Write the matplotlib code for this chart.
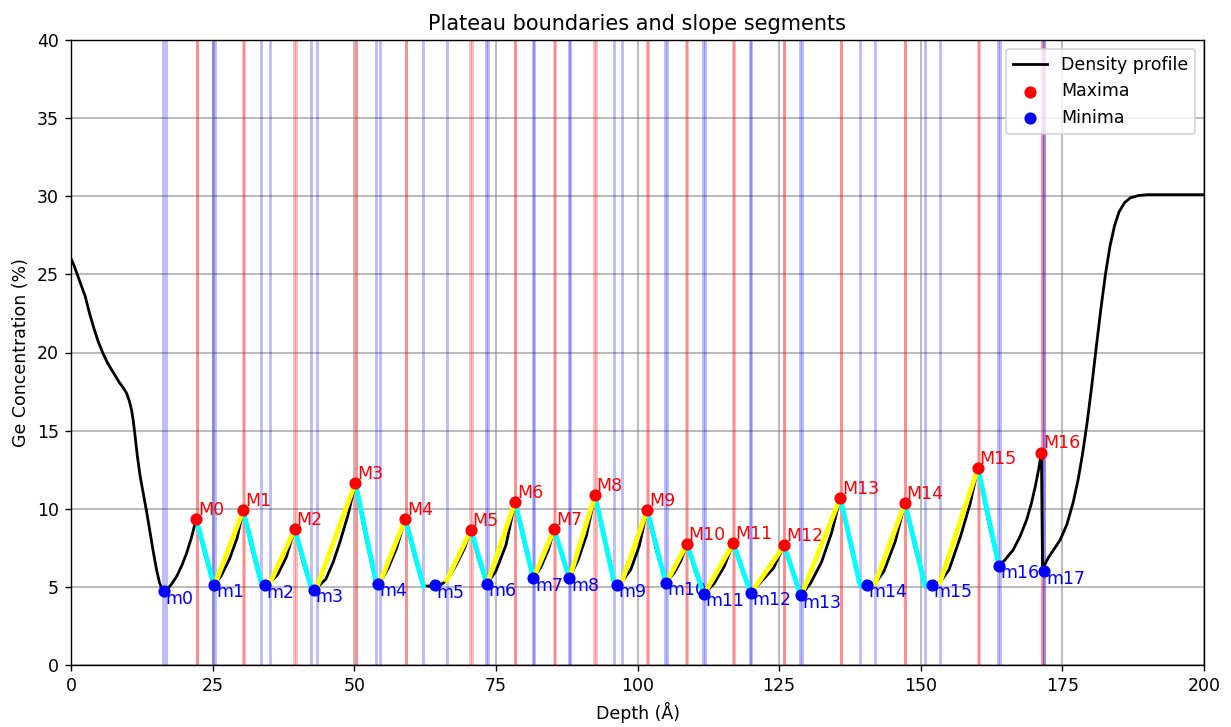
import numpy as np
import matplotlib.pyplot as plt

# density profile
prof_x = [0, 0.5, 1, 1.8, 2.5, 3.2, 4, 4.8, 5.7, 6.5, 7.5, 8.5, 9.3, 9.8, 10.3, 10.7, 11.0, 11.3,
          11.7, 12.2, 12.8, 13.4, 13.9, 14.5, 15.1, 15.6, 16.0, 16.4,
          17.0, 17.8, 18.7, 19.6, 20.4, 21.3, 22.1,
          23.6, 25.15, 25.3, 25.45,
          26.5, 28.0, 29.3, 30.4,
          32.0, 33.5, 34.2, 35.1,
          36.5, 38.0, 39.5,
          41.0, 42.4, 42.9, 43.4,
          45.0, 46.3, 47.5, 48.9, 50.2,
          52.0, 53.8, 54.2, 54.6,
          56.0, 57.5, 59.0,
          60.6, 62.2, 63.2, 64.2, 65.3, 66.3,
          68.0, 69.5, 70.6,
          72.0, 73.4,
          75.0, 76.8, 78.4,
          80.0, 81.6,
          83.0, 84.3, 85.3,
          86.7, 87.95,
          89.5, 91.0, 92.5,
          94.2, 95.9, 96.4, 97.2,
          98.8, 100.3, 101.7,
          103.3, 105.0,
          106.5, 107.7, 108.7,
          110.2, 111.7,
          113.5, 115.3, 116.9,
          118.5, 120.0,
          122.0, 124.0, 125.9,
          127.4, 128.8,
          130.5, 132.5, 134.3, 135.8,
          137.6, 139.3, 140.5, 141.9,
          143.5, 145.5, 147.2,
          149.0, 150.75, 152.0, 153.4,
          155.0, 157.0, 158.7, 160.1,
          162.0, 163.8,
          164.8, 166.3, 167.5, 168.7, 169.5, 170.2, 170.8, 171.3,
          171.5,
          172.0, 172.5, 173.5, 174.6, 175.8, 176.9, 177.8, 178.6, 179.4, 180.2, 181.0,
          181.8, 182.6, 183.4, 184.2, 185.0, 186.0, 187.0, 188.5, 190, 195, 200]
prof_y = [26.0, 25.6, 25.1, 24.3, 23.6, 22.6, 21.6, 20.7, 19.9, 19.3, 18.7, 18.1, 17.7, 17.4, 16.9, 16.3, 15.6, 14.7,
          13.4, 12.1, 10.9, 9.7, 8.6, 7.3, 6.1, 5.3, 4.9, 4.72,
          4.85, 5.2, 5.7, 6.4, 7.15, 8.2, 9.35,
          7.1, 5.2, 5.15, 5.2,
          5.7, 6.8, 8.1, 9.9,
          7.3, 5.3, 5.1, 5.25,
          5.8, 6.9, 8.7,
          6.5, 4.95, 4.8, 4.95,
          5.5, 6.6, 7.9, 9.6, 11.65,
          8.2, 5.35, 5.2, 5.3,
          6.2, 7.5, 9.35,
          7.0, 5.05, 5.05, 5.1, 5.15, 5.4,
          6.4, 7.5, 8.65,
          6.7, 5.2,
          6.0, 7.7, 10.45,
          7.8, 5.55,
          6.3, 7.4, 8.7,
          6.9, 5.55,
          6.7, 8.3, 10.85,
          7.9, 5.25, 5.15, 5.3,
          6.1, 7.6, 9.9,
          7.4, 5.25,
          5.9, 6.7, 7.75,
          6.0, 4.55,
          5.2, 6.3, 7.8,
          6.0, 4.6,
          5.4, 6.2, 7.65,
          5.9, 4.45,
          5.2, 6.6, 8.5, 10.7,
          7.7, 5.1, 5.15, 5.2,
          6.0, 7.9, 10.35,
          7.5, 5.1, 5.15, 5.3,
          6.1, 8.2, 10.3, 12.6,
          9.1, 6.35,
          6.7, 7.36, 8.2, 9.3, 10.3, 11.4, 12.5, 13.6,
          6.0,
          6.5, 6.85, 7.4, 8.0, 9.0, 10.4, 11.9, 13.6, 15.6, 17.9, 20.4,
          22.8, 25.0, 26.8, 28.1, 29.0, 29.6, 29.9, 30.05, 30.1, 30.1, 30.1]

max_x = [22.1, 30.4, 39.5, 50.2, 59.0, 70.6, 78.4, 85.3, 92.5, 101.7, 108.7, 116.9, 125.9, 135.8, 147.2, 160.1, 171.3]
max_y = [9.35, 9.9, 8.7, 11.65, 9.35, 8.65, 10.45, 8.7, 10.85, 9.9, 7.75, 7.8, 7.65, 10.7, 10.35, 12.6, 13.6]
max_left = [22.19, 30.3, 39.45, 50.26, 59.08, 70.5, 78.38, 85.2, 92.4, 101.7, 108.6, 116.8, 125.86, 135.87, 147.22, 160.05, 171.35]
max_right = [22.19, 30.55, 39.65, 50.26, 59.08, 70.75, 78.38, 85.45, 92.6, 101.8, 108.8, 117.05, 125.86, 135.87, 147.22, 160.3, 171.35]

min_x = [16.4, 25.3, 34.2, 42.9, 54.2, 64.2, 73.4, 81.6, 87.95, 96.4, 105.0, 111.7, 120.0, 128.8, 140.5, 152.0, 163.8, 171.8]
min_y = [4.72, 5.15, 5.1, 4.8, 5.2, 5.1, 5.2, 5.55, 5.55, 5.15, 5.25, 4.55, 4.6, 4.45, 5.15, 5.15, 6.35, 6.0]
min_left = [16.2, 25.15, 33.54, 42.37, 53.79, 62.19, 73.25, 81.5, 87.85, 95.9, 104.8, 111.6, 119.8, 128.7, 139.27, 150.75, 163.65, 171.76]
min_right = [16.7, 25.45, 35.13, 43.37, 54.55, 66.32, 73.55, 81.7, 88.05, 97.2, 105.2, 111.9, 120.1, 129.0, 141.92, 153.4, 163.95, 171.76]

prof_x = np.array(prof_x)
prof_y = np.array(prof_y)

fig = plt.figure(figsize=(1231 / 125, 727 / 125), dpi=125)
ax = fig.add_axes([71 / 1231, 1 - 665 / 727, (1204 - 71) / 1231, (665 - 40) / 727])

# plateau boundaries
for a, b in zip(max_left, max_right):
    ax.axvline(a, color='red', alpha=0.27, lw=1.6)
    ax.axvline(b, color='red', alpha=0.27, lw=1.6)
for a, b in zip(min_left, min_right):
    ax.axvline(a, color='blue', alpha=0.27, lw=1.6)
    ax.axvline(b, color='blue', alpha=0.27, lw=1.6)

ax.plot(prof_x, prof_y, color='black', lw=1.6, label='Density profile', zorder=3)

# slope segments
for i in range(16):
    xe = min_left[i + 1]
    ax.plot([max_x[i], xe], [max_y[i], np.interp(xe, prof_x, prof_y)], color='cyan', lw=2.8, zorder=4)
for i in range(1, 16):
    xs = min_right[i]
    ax.plot([xs, max_x[i]], [np.interp(xs, prof_x, prof_y), max_y[i]], color='yellow', lw=2.8, zorder=4)

ax.scatter(max_x, max_y, color='red', label='Maxima', zorder=5)
ax.scatter(min_x, min_y, color='blue', label='Minima', zorder=5)

for i in range(len(max_x)):
    ax.annotate('M%d' % i, (max_x[i], max_y[i]), xytext=(1, 0), textcoords='offset points',
                color='red', va='bottom', ha='left')
for i in range(len(min_x)):
    ax.annotate('m%d' % i, (min_x[i], min_y[i]), xytext=(1, 1), textcoords='offset points',
                color='blue', va='top', ha='left')

ax.set_xlim(0, 200)
ax.set_ylim(0, 40)
ax.grid(True, color='gray', alpha=0.6, lw=1)
ax.set_axisbelow(True)
ax.set_xlabel('Depth (Å)')
ax.set_ylabel('Ge Concentration (%)')
ax.set_title('Plateau boundaries and slope segments')
ax.legend(loc='upper right')

plt.savefig('out.png', dpi=125)
